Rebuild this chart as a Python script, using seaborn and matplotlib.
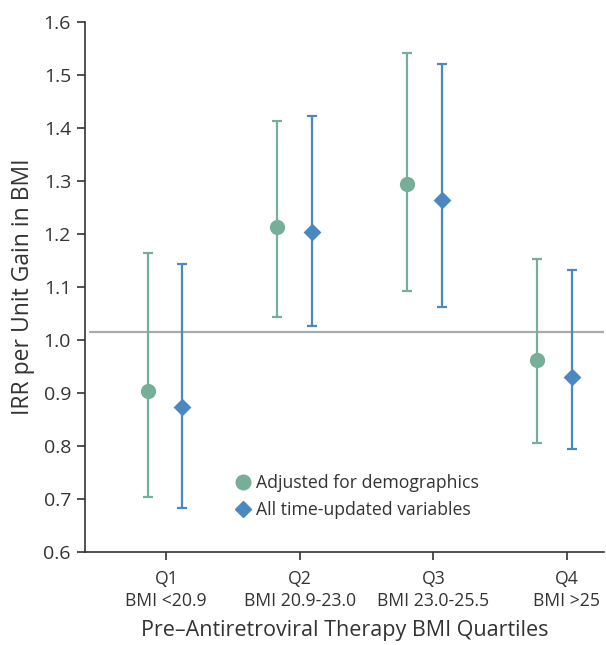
import numpy as np
import pandas as pd
import seaborn as sns
import matplotlib.pyplot as plt
from matplotlib.lines import Line2D

# --- data ---
quartiles = ["Q1\nBMI <20.9", "Q2\nBMI 20.9-23.0", "Q3\nBMI 23.0-25.5", "Q4\nBMI >25"]
models = ["Adjusted for demographics", "All time-updated variables"]

demo_irr = [0.904, 1.213, 1.295, 0.962]
demo_lo = [0.704, 1.044, 1.093, 0.806]
demo_hi = [1.164, 1.413, 1.541, 1.152]

tv_irr = [0.873, 1.203, 1.264, 0.931]
tv_lo = [0.684, 1.027, 1.063, 0.795]
tv_hi = [1.143, 1.422, 1.521, 1.132]

ref_line = 1.016

colors = {"Adjusted for demographics": "#76ae98", "All time-updated variables": "#4a88c0"}
offsets = {"Adjusted for demographics": -0.13, "All time-updated variables": 0.13}

rows = []
for i, q in enumerate(quartiles):
    rows.append({"q": i, "model": models[0], "irr": demo_irr[i], "lo": demo_lo[i], "hi": demo_hi[i]})
    rows.append({"q": i, "model": models[1], "irr": tv_irr[i], "lo": tv_lo[i], "hi": tv_hi[i]})
df = pd.DataFrame(rows)
df["x"] = df["q"] * 0.973 - 0.01 + df["model"].map(offsets)

sns.set_theme(style="white")
plt.rcParams["font.family"] = ["Open Sans", "DejaVu Sans"]

fig = plt.figure(figsize=(6.06, 6.45), dpi=100)
ax = fig.add_axes([0.140, 0.144, 0.857, 0.822])

ax.axhline(ref_line, xmin=0.01, xmax=1, color="#aaaaaa", linewidth=1.6, zorder=1)

# error bars
for m in models:
    sub = df[df["model"] == m]
    ax.errorbar(sub["x"], sub["irr"],
                yerr=[sub["irr"] - sub["lo"], sub["hi"] - sub["irr"]],
                fmt="none", ecolor=colors[m], elinewidth=1.6,
                capsize=3.4, capthick=1.6, zorder=2)

sns.scatterplot(data=df[df["model"] == models[0]], x="x", y="irr", ax=ax,
                color=colors[models[0]], marker="o", s=120, linewidth=0,
                zorder=3, legend=False)
sns.scatterplot(data=df[df["model"] == models[1]], x="x", y="irr", ax=ax,
                color=colors[models[1]], marker="D", s=82, linewidth=0,
                zorder=3, legend=False)

ax.set_xlim(-0.61, 3.28)
ax.set_ylim(0.6, 1.6)
ax.set_xticks(range(len(quartiles)))
ax.set_xticklabels(quartiles, fontsize=12.7, color="#333333", linespacing=1.3)
ax.set_yticks(np.arange(0.6, 1.61, 0.1))
ax.set_yticklabels([f"{v:.1f}" for v in np.arange(0.6, 1.61, 0.1)],
                   fontsize=14, color="#333333")
ax.tick_params(axis="y", direction="out", length=6, width=1.2,
               color="#333333", left=True, pad=4)
ax.tick_params(axis="x", direction="out", length=6, width=1.2,
               color="#333333", bottom=True, pad=7)

ax.set_xlabel("Pre\u2013Antiretroviral Therapy BMI Quartiles", fontsize=15.5,
              color="#333333", labelpad=7)
ax.set_ylabel("IRR per Unit Gain in BMI", fontsize=16.5, color="#333333", labelpad=6)

for side in ["top", "right"]:
    ax.spines[side].set_visible(False)
for side in ["left", "bottom"]:
    ax.spines[side].set_color("#333333")
    ax.spines[side].set_linewidth(1.2)

handles = [
    Line2D([], [], marker="o", linestyle="none", color=colors[models[0]], markersize=10.5),
    Line2D([], [], marker="D", linestyle="none", color=colors[models[1]], markersize=8),
]
ax.legend(handles, models, loc="upper left", bbox_to_anchor=(0.27, 0.164),
          frameon=False, fontsize=12.7, handletextpad=0.25, labelspacing=0.5,
          handlelength=1.0, borderpad=0, labelcolor="#333333")

fig.savefig("out.png", dpi=100)
